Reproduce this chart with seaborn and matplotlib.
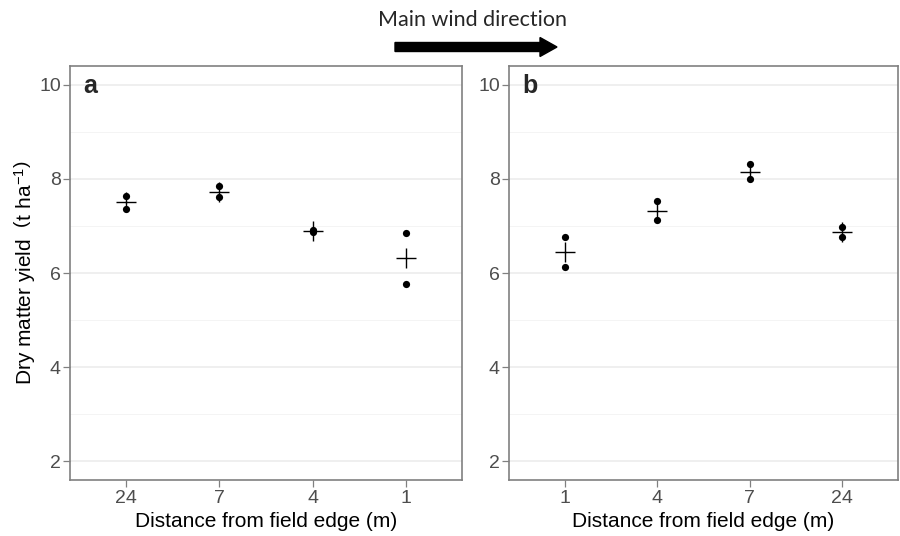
import numpy as np
import pandas as pd
import matplotlib
matplotlib.use("Agg")
import matplotlib.pyplot as plt
import seaborn as sns
from matplotlib.patches import FancyArrow

# ---- data ----
order_a = ["24", "7", "4", "1"]
dist_a = ["24", "24", "7", "7", "4", "4", "1", "1"]
yield_a = [7.64, 7.36, 7.84, 7.62, 6.91, 6.87, 6.85, 5.77]

order_b = ["1", "4", "7", "24"]
dist_b = ["1", "1", "4", "4", "7", "7", "24", "24"]
yield_b = [6.77, 6.12, 7.52, 7.13, 8.31, 8.00, 6.97, 6.77]

y_ticks = [2, 4, 6, 8, 10]
x_title = "Distance from field edge (m)"
y_title = r"Dry matter yield  $\left(\mathrm{t\ ha^{-1}}\right)$"
arrow_text = "Main wind direction"

sns.set_theme(style="white")
plt.rcParams["font.family"] = ["Liberation Sans", "DejaVu Sans"]
plt.rcParams["mathtext.fontset"] = "custom"
plt.rcParams["mathtext.rm"] = "Liberation Sans"

fig = plt.figure(figsize=(9, 5.36), dpi=100)
W, H = 900, 536

def ax_rect(x0, x1, ytop, ybot):
    return [x0 / W, 1 - ybot / H, (x1 - x0) / W, (ybot - ytop) / H]

ax_a = fig.add_axes(ax_rect(70, 462, 66, 480))
ax_b = fig.add_axes(ax_rect(509, 898, 66, 480))

grey_txt = "#4D4D4D"

def draw(ax, dist, vals, order, label):
    df = pd.DataFrame({"dist": dist, "y": vals})
    sns.stripplot(data=df, x="dist", y="y", order=order, jitter=False,
                  color="black", size=5.2, ax=ax, zorder=3)
    means = df.groupby("dist", sort=False)["y"].mean().reindex(order).reset_index()
    sns.stripplot(data=means, x="dist", y="y", order=order, jitter=False,
                  color="black", marker="+", size=14, linewidth=1.0, ax=ax, zorder=4)
    ax.set_xlim(-0.6, len(order) - 0.4)
    ax.set_ylim(1.6, 10.4)
    ax.set_yticks(y_ticks)
    ax.set_yticks([3, 5, 7, 9], minor=True)
    ax.grid(axis="y", which="major", color="#EBEBEB", linewidth=1.1, zorder=0)
    ax.grid(axis="y", which="minor", color="#F2F2F2", linewidth=0.6, zorder=0)
    ax.grid(axis="x", visible=False)
    ax.set_axisbelow(True)
    for s in ax.spines.values():
        s.set_color("#808080")
        s.set_linewidth(1.2)
        s.set_visible(True)
    ax.tick_params(axis="both", which="major", length=5, width=0.9, color="#808080",
                   labelsize=14, labelcolor=grey_txt, pad=2.5, bottom=True, left=True)
    ax.tick_params(axis="y", which="major", pad=1.5)
    ax.tick_params(axis="y", which="minor", length=0)
    ax.set_xlabel(x_title, fontsize=15, color="black", labelpad=3)
    ax.set_ylabel("")
    ax.text(0.035, 0.952, label, transform=ax.transAxes, fontsize=18,
            fontweight="bold", va="center", ha="left")

draw(ax_a, dist_a, yield_a, order_a, "a")
draw(ax_b, dist_b, yield_b, order_b, "b")
ax_a.set_ylabel(y_title, fontsize=15, color="black", labelpad=1)

# wind arrow
fig.add_artist(FancyArrow(395 / W, 1 - 47 / H, 145 / W, 0, width=9 / H,
                          head_width=19 / H, head_length=17 / W,
                          length_includes_head=False, color="black",
                          transform=fig.transFigure))
fig.text(473 / W, 1 - 20 / H, arrow_text, ha="center", va="center",
         fontsize=15.5, family=["Lato", "DejaVu Sans"])

fig.savefig("out.png", dpi=100)
